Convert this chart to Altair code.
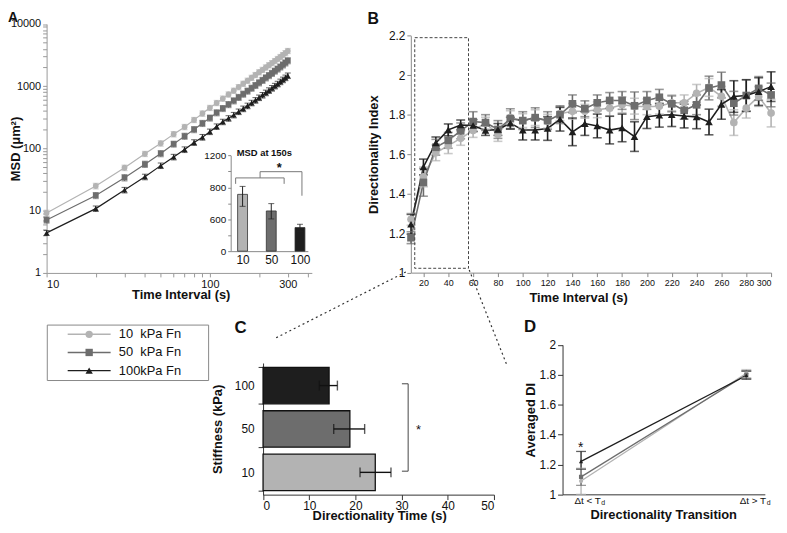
import altair as alt
import pandas as pd

FONT = "Liberation Sans"
W, H = 779, 517


def P(v):
    # screen pixel -> plot pixel (page margin is 8px)
    return v - 8


GROUPS = ["10", "50", "100"]
GREYS = ["#b3b3b3", "#6d6d6d", "#1e1e1e"]
SHAPES = ["circle", "square", "triangle-up"]

# ---------------- data: panel A (MSD, log-log) ----------------
t_a = [10, 20, 30, 40, 50, 60, 70, 80, 90, 100, 110, 120, 130, 140, 150,
       160, 170, 180, 190, 200, 210, 220, 230, 240, 250, 260, 270, 280, 290, 300]
msd_10 = [9.2, 25, 49, 82, 121, 170, 222, 288, 365, 450, 540, 635, 740, 850, 970,
          1100, 1230, 1370, 1520, 1680, 1840, 2010, 2180, 2360, 2550, 2750, 2960, 3180, 3420, 3700]
msd_50 = [7.1, 17.6, 34, 56, 83, 118, 158, 202, 254, 310, 376, 441, 510, 585, 665,
          750, 840, 935, 1035, 1140, 1250, 1370, 1490, 1620, 1760, 1900, 2050, 2210, 2380, 2580]
msd_100 = [4.4, 10.8, 21.5, 35, 53, 73, 96, 125, 152, 186, 225, 268, 305, 345, 390,
           435, 485, 540, 595, 655, 720, 785, 855, 930, 1010, 1090, 1180, 1270, 1370, 1480]
msd_err_10 = [1.0, 2.6, 5, 8, 12, 17, 22, 28, 36, 44, 53, 62, 72, 83, 95,
              107, 120, 133, 147, 162, 178, 195, 212, 230, 249, 269, 290, 311, 334, 360]
msd_err_50 = [0.8, 2.0, 4, 6.5, 9.5, 13, 18, 23, 29, 35, 42, 50, 58, 66, 75,
              85, 95, 106, 117, 129, 141, 154, 168, 182, 197, 213, 230, 248, 268, 290]
msd_err_100 = [0.4, 1.1, 2.2, 3.6, 5.4, 7.5, 10, 13, 16, 19, 23, 27, 31, 35, 40,
               45, 50, 55, 61, 67, 74, 81, 88, 96, 104, 112, 121, 131, 141, 152]

# inset: MSD at 150 s
inset_msd = [712, 504, 296]
inset_lo = [562, 404, 250]
inset_hi = [812, 596, 337]

# ---------------- data: panel B (directionality index) ----------------
t_b = t_a
di_10 = [1.27, 1.485, 1.607, 1.643, 1.68, 1.72, 1.757, 1.70, 1.785, 1.77, 1.785, 1.767, 1.805, 1.817, 1.817,
         1.825, 1.833, 1.85, 1.843, 1.84, 1.843, 1.86, 1.86, 1.908, 1.938, 1.893, 1.76, 1.833, 1.892, 1.808]
di_err_10 = [0.03, 0.05, 0.04, 0.04, 0.035, 0.035, 0.03, 0.035, 0.035, 0.035, 0.04, 0.035, 0.035, 0.04, 0.035,
             0.04, 0.04, 0.04, 0.04, 0.04, 0.04, 0.04, 0.04, 0.045, 0.045, 0.05, 0.065, 0.05, 0.05, 0.07]
di_50 = [1.177, 1.457, 1.635, 1.67, 1.718, 1.765, 1.76, 1.725, 1.78, 1.77, 1.785, 1.77, 1.80, 1.855, 1.83,
         1.86, 1.872, 1.872, 1.845, 1.872, 1.888, 1.855, 1.822, 1.85, 1.935, 1.95, 1.858, 1.897, 1.933, 1.90]
di_err_50 = [0.03, 0.07, 0.04, 0.04, 0.04, 0.05, 0.04, 0.045, 0.05, 0.045, 0.05, 0.045, 0.045, 0.045, 0.04,
             0.04, 0.04, 0.045, 0.07, 0.045, 0.04, 0.04, 0.045, 0.05, 0.06, 0.065, 0.06, 0.08, 0.06, 0.06]
di_100 = [1.245, 1.535, 1.657, 1.723, 1.748, 1.745, 1.72, 1.725, 1.757, 1.722, 1.722, 1.73, 1.777, 1.713, 1.755,
          1.743, 1.722, 1.733, 1.689, 1.79, 1.797, 1.80, 1.793, 1.789, 1.763, 1.852, 1.892, 1.897, 1.917, 1.942]
di_err_100 = [0.05, 0.04, 0.03, 0.03, 0.025, 0.03, 0.025, 0.03, 0.03, 0.05, 0.05, 0.06, 0.06, 0.07, 0.06,
              0.06, 0.07, 0.07, 0.075, 0.06, 0.06, 0.06, 0.06, 0.06, 0.065, 0.075, 0.08, 0.08, 0.07, 0.075]
zoom_box_t = [13, 56.3]
zoom_box_di = [1.022, 2.19]

# ---------------- data: panel C (directionality time) ----------------
dir_time = [24.3, 18.8, 14.3]
dir_lo = [21.0, 15.3, 12.2]
dir_hi = [27.7, 22.0, 16.1]

# ---------------- data: panel D (averaged DI) ----------------
phases = ["\u0394t < Td", "\u0394t > Td"]
phase_text = ["\u0394t < T", "\u0394t > T"]
adi_10 = [1.089, 1.81]
adi_10_lo = [1.0, 1.78]
adi_10_hi = [1.175, 1.835]
adi_50 = [1.117, 1.80]
adi_50_lo = [1.06, 1.775]
adi_50_hi = [1.17, 1.825]
adi_100 = [1.221, 1.795]
adi_100_lo = [1.168, 1.77]
adi_100_hi = [1.287, 1.825]

# ---------------- tables ----------------
rows = []
for g, vals, errs in zip(GROUPS, [msd_10, msd_50, msd_100], [msd_err_10, msd_err_50, msd_err_100]):
    for t, v, e in zip(t_a, vals, errs):
        rows.append(dict(t=t, v=v, lo=v - e, hi=v + e, grp=g))
dfA = pd.DataFrame(rows)

dfI = pd.DataFrame(dict(grp=GROUPS, msd=inset_msd, lo=inset_lo, hi=inset_hi))

rows = []
for g, vals, errs in zip(GROUPS, [di_10, di_50, di_100], [di_err_10, di_err_50, di_err_100]):
    for t, v, e in zip(t_b, vals, errs):
        rows.append(dict(t=t, v=v, lo=v - e, hi=v + e, grp=g))
dfB = pd.DataFrame(rows)
dfBox = pd.DataFrame(dict(x0=[zoom_box_t[0]], x1=[zoom_box_t[1]], y0=[zoom_box_di[0]], y1=[zoom_box_di[1]]))

dfC = pd.DataFrame(dict(grp=GROUPS, dt=dir_time, lo=dir_lo, hi=dir_hi))

rows = []
for g, vals, los, his in zip(GROUPS, [adi_10, adi_50, adi_100], [adi_10_lo, adi_50_lo, adi_100_lo],
                             [adi_10_hi, adi_50_hi, adi_100_hi]):
    for ph, v, lo, hi in zip(phases, vals, los, his):
        rows.append(dict(phase=ph, v=v, lo=lo, hi=hi, grp=g))
dfD = pd.DataFrame(rows)
dfDl = pd.DataFrame(dict(phase=phases, main=phase_text))

dfL = pd.DataFrame(dict(grp=GROUPS))
one = pd.DataFrame(dict(k=[0]))

color_enc = alt.Color("grp:N", scale=alt.Scale(domain=GROUPS, range=GREYS), legend=None)
shape_enc = alt.Shape("grp:N", scale=alt.Scale(domain=GROUPS, range=SHAPES), legend=None)

TITLE = dict(titleFontSize=13, titleFontWeight="bold", titleBaseline="middle", titleColor="#111")

# ---------------- panel A ----------------
sxA = alt.Scale(type="log", domain=[10, 421], range=[P(47), P(315)])
syA = alt.Scale(type="log", domain=[1, 10000], range=[P(273), P(21.5)])
axA_x = alt.Axis(orient="bottom", offset=P(273) - H,
                 values=[10, 20, 30, 40, 50, 60, 70, 80, 90, 100, 200, 300, 400],
                 labelExpr="indexof([10,100,300], datum.value) >= 0 ? format(datum.value, 'd') : ''",
                 labelFontSize=11, labelColor="#111", labelOverlap=False, labelPadding=2,
                 domainColor="#999", tickColor="#999", tickSize=4,
                 title="Time Interval (s)", titleX=P(182.5), titleY=22, **TITLE)
yvals = [m * 10 ** e for e in range(4) for m in range(1, 10)] + [10000]
axA_y = alt.Axis(orient="left", offset=-P(47), values=yvals,
                 labelExpr="indexof([1,10,100,1000,10000], datum.value) >= 0 ? format(datum.value, 'd') : ''",
                 labelFontSize=11, labelColor="#111", labelOverlap=False, labelPadding=2,
                 domainColor="#999", tickColor="#999", tickSize=4,
                 title="MSD (\u03bcm\u00b2)", titleX=-31, **TITLE)


def XA(f):
    return alt.X(f, type="quantitative", scale=sxA, axis=axA_x)


def YA(f):
    return alt.Y(f, type="quantitative", scale=syA, axis=axA_y)


bA = alt.Chart(dfA)
panelA = alt.layer(
    bA.mark_line(strokeWidth=1.2).encode(x=XA("t"), y=YA("v"), color=color_enc),
    bA.mark_rule(strokeWidth=1).encode(x=XA("t"), y=YA("lo"), y2="hi", color=color_enc),
    bA.mark_tick(orient="horizontal", size=6, thickness=1).encode(x=XA("t"), y=YA("lo"), color=color_enc),
    bA.mark_tick(orient="horizontal", size=6, thickness=1).encode(x=XA("t"), y=YA("hi"), color=color_enc),
    bA.mark_point(filled=True, size=34, opacity=1).encode(x=XA("t"), y=YA("v"), color=color_enc, shape=shape_enc),
)

# ---------------- inset ----------------
sxI = alt.Scale(type="point", domain=GROUPS, range=[P(233), P(311)], padding=0.345, align=0.6)
syI = alt.Scale(domain=[0, 1200], range=[P(251), P(154.3)])
axI_x = alt.Axis(orient="bottom", offset=P(251) - H, title=None, labelFontSize=12, labelColor="#111",
                 ticks=False, domainColor="#888", labelAngle=0, labelPadding=3)
axI_y = alt.Axis(orient="left", offset=-P(233), title=None, values=[0, 200, 400, 600, 800, 1000, 1200],
                 labelExpr="datum.value == 400 ? '600' : (datum.value % 400 == 0 ? format(datum.value, 'd') : '')",
                 labelFontSize=10, labelColor="#111", domainColor="#888", tickColor="#888", tickSize=3,
                 labelPadding=2, labelOverlap=False)


def XI(f):
    return alt.X(f, type="nominal", scale=sxI, axis=axI_x)


def YI(f):
    return alt.Y(f, type="quantitative", scale=syI, axis=axI_y)


bI = alt.Chart(dfI)
inset = alt.layer(
    bI.mark_bar(size=10, stroke="#333", strokeWidth=0.8, orient="vertical").encode(x=XI("grp"), y=YI("msd"), color=color_enc),
    bI.mark_rule(strokeWidth=1, color="#222").encode(x=XI("grp"), y=YI("lo"), y2="hi"),
    bI.mark_tick(orient="horizontal", size=6, thickness=1, color="#222").encode(x=XI("grp"), y=YI("lo")),
    bI.mark_tick(orient="horizontal", size=6, thickness=1, color="#222").encode(x=XI("grp"), y=YI("hi")),
)

# ---------------- panel B ----------------
sxB = alt.Scale(domain=[10, 300], range=[P(415.2), P(779)])
syB = alt.Scale(domain=[1, 2.2], range=[P(272.7), P(33.3)])
axB_x = alt.Axis(orient="bottom", offset=P(272.7) - H, values=list(range(20, 301, 20)),
                 labelFontSize=9, labelColor="#111", labelPadding=2,
                 domainColor="#888", tickColor="#888", tickSize=4,
                 title="Time Interval (s)", titleX=P(584), titleY=24.8, **TITLE)
axB_y = alt.Axis(orient="left", offset=-P(415), values=[1, 1.2, 1.4, 1.6, 1.8, 2, 2.2], format=".1~f",
                 labelFontSize=12, labelColor="#111", labelPadding=2,
                 domainColor="#888", tickColor="#888", tickSize=4,
                 title="Directionality Index", titleX=-38, **TITLE)


def XB(f):
    return alt.X(f, type="quantitative", scale=sxB, axis=axB_x)


def YB(f):
    return alt.Y(f, type="quantitative", scale=syB, axis=axB_y)


bB = alt.Chart(dfB)
panelB = alt.layer(
    bB.mark_line(strokeWidth=1.6).encode(x=XB("t"), y=YB("v"), color=color_enc),
    bB.mark_rule(strokeWidth=1.6).encode(x=XB("t"), y=YB("lo"), y2="hi", color=color_enc),
    bB.mark_tick(orient="horizontal", size=9, thickness=1.6).encode(x=XB("t"), y=YB("lo"), color=color_enc),
    bB.mark_tick(orient="horizontal", size=9, thickness=1.6).encode(x=XB("t"), y=YB("hi"), color=color_enc),
    bB.mark_point(filled=True, size=60, opacity=1).encode(x=XB("t"), y=YB("v"), color=color_enc, shape=shape_enc),
    alt.Chart(dfBox).mark_rect(fillOpacity=0, stroke="#444", strokeWidth=1, strokeDash=[3, 2]).encode(
        x=XB("x0"), x2="x1", y=YB("y0"), y2="y1"),
)

# ---------------- panel C ----------------
sxC = alt.Scale(domain=[0, 50], range=[P(265.7), P(499)])
syC = alt.Scale(domain=["100", "50", "10"], range=[P(364), P(497.3)], paddingInner=0.16, paddingOuter=0.1)
axC_x = alt.Axis(orient="bottom", offset=P(497) - H, values=[0, 10, 20, 30, 40, 50],
                 labelFontSize=12, labelColor="#111", labelPadding=1,
                 domainColor="#333", tickColor="#333", tickSize=5,
                 title="Directionality Time (s)", titleX=P(383), titleY=21, **TITLE)
axC_y = alt.Axis(orient="left", offset=-P(265.7), tickBand="extent",
                 labelFontSize=12, labelColor="#111", labelPadding=4,
                 domainColor="#333", tickColor="#333", tickSize=5,
                 title="Stiffness (kPa)", titleX=220 - 265.7, **TITLE)


def XC(f):
    return alt.X(f, type="quantitative", scale=sxC, axis=axC_x)


def YC(f):
    return alt.Y(f, type="nominal", scale=syC, axis=axC_y)


bC = alt.Chart(dfC)
panelC = alt.layer(
    bC.mark_bar(stroke="#111", strokeWidth=1.3).encode(x=XC("dt"), y=YC("grp"), color=color_enc),
    bC.mark_rule(strokeWidth=1.4, color="#111").encode(x=XC("lo"), x2="hi", y=YC("grp")),
    bC.mark_tick(orient="vertical", size=10, thickness=1.4, color="#111").encode(x=XC("lo"), y=YC("grp")),
    bC.mark_tick(orient="vertical", size=10, thickness=1.4, color="#111").encode(x=XC("hi"), y=YC("grp")),
)

# ---------------- panel D ----------------
sxD = alt.Scale(type="point", domain=phases, range=[P(568.3), P(772.7)], padding=0.112)
syD = alt.Scale(domain=[1, 2], range=[P(496.7), P(345.7)])
axD_x = alt.Axis(orient="bottom", offset=P(496.7) - H, labels=False, ticks=False,
                 domainColor="#333", title="Directionality Transition", titleX=P(670), titleY=20, **TITLE)
axD_y = alt.Axis(orient="left", offset=-P(568.3), values=[1, 1.2, 1.4, 1.6, 1.8, 2], format=".1~f",
                 labelFontSize=12, labelColor="#111", labelPadding=2,
                 domainColor="#333", tickColor="#333", tickSize=5,
                 title="Averaged DI", titleX=536 - 568.3, **TITLE)


def XD(f):
    return alt.X(f, type="nominal", scale=sxD, axis=axD_x)


def YD(f):
    return alt.Y(f, type="quantitative", scale=syD, axis=axD_y)


bD = alt.Chart(dfD)
panelD = alt.layer(
    bD.mark_line(strokeWidth=1.3).encode(x=XD("phase"), y=YD("v"), color=color_enc),
    bD.mark_rule(strokeWidth=1.3).encode(x=XD("phase"), y=YD("lo"), y2="hi", color=color_enc),
    bD.mark_tick(orient="horizontal", size=10, thickness=1.3).encode(x=XD("phase"), y=YD("lo"), color=color_enc),
    bD.mark_tick(orient="horizontal", size=10, thickness=1.3).encode(x=XD("phase"), y=YD("hi"), color=color_enc),
    bD.mark_point(filled=True, size=18, opacity=1).encode(x=XD("phase"), y=YD("v"), color=color_enc, shape=shape_enc),
    alt.Chart(dfDl).mark_text(align="right", baseline="middle", fontSize=10, dx=20, color="#111").encode(
        x=XD("phase"), y=alt.value(P(503)), text="main:N"),
    alt.Chart(dfDl).mark_text(align="left", baseline="middle", fontSize=7, dx=20.5, dy=2.5, color="#111").encode(
        x=XD("phase"), y=alt.value(P(503)), text=alt.value("d")),
)

# ---------------- legend ----------------
syL = alt.Scale(type="point", domain=GROUPS, range=[P(335), P(371.7)], padding=0)
YL = alt.Y("grp:N", scale=syL, axis=None)
bL = alt.Chart(dfL)
legend = alt.layer(
    alt.Chart(one).mark_rect(fillOpacity=0, stroke="#888", strokeWidth=1).encode(
        x=alt.value(P(47.7)), x2=alt.value(P(210.7)), y=alt.value(P(325.7)), y2=alt.value(P(381.7))),
    bL.mark_rule(strokeWidth=1.4).encode(x=alt.value(P(68.3)), x2=alt.value(P(111.7)), y=YL, color=color_enc),
    bL.mark_point(filled=True, size=55, opacity=1).encode(x=alt.value(P(90)), y=YL, color=color_enc, shape=shape_enc),
    bL.mark_text(align="left", baseline="middle", fontSize=13, color="#111").encode(
        x=alt.value(P(120)), y=YL, text="grp:N"),
    bL.mark_text(align="left", baseline="middle", fontSize=13, color="#111").encode(
        x=alt.value(P(141.7)), y=YL, text=alt.value("kPa Fn")),
)


# ---------------- annotations ----------------
def seg(x1, y1, x2, y2, color="#333", width=1.0, dash=None):
    kw = dict(color=color, strokeWidth=width)
    if dash:
        kw["strokeDash"] = dash
    return alt.Chart(one).mark_rule(**kw).encode(
        x=alt.value(P(x1)), y=alt.value(P(y1)), x2=alt.value(P(x2)), y2=alt.value(P(y2)))


def label(txt, x, y, size=17, weight="bold", color="#111", baseline="middle", align="center"):
    return alt.Chart(one).mark_text(align=align, baseline=baseline, fontSize=size,
                                    fontWeight=weight, color=color).encode(
        x=alt.value(P(x)), y=alt.value(P(y)), text=alt.value(txt))


annot = alt.layer(
    label("A", 8, 8, size=14, baseline="top", align="left"),
    label("B", 377, 8.5, size=16, baseline="top"),
    label("C", 243, 329), label("D", 535.5, 328),
    label("MSD at 150s", 267, 152, size=9.5),
    # inset significance brackets
    seg(238, 177, 287, 177, "#777"), seg(238, 177, 238, 183, "#777"), seg(287, 177, 287, 183, "#777"),
    seg(262.7, 170.7, 262.7, 177, "#777"), seg(262.7, 170.7, 305, 170.7, "#777"),
    seg(305, 170.7, 305, 195, "#777"),
    label("*", 282, 167, size=13),
    # connector dotted lines
    seg(410, 272, 278, 339, "#333", 1.2, [2, 3]),
    seg(474, 270, 512, 366, "#333", 1.2, [2, 3]),
    # panel C bracket
    seg(412.3, 385, 412.3, 473.3, "#444"), seg(406, 385, 412.3, 385, "#444"),
    seg(406, 473.3, 412.3, 473.3, "#444"),
    label("*", 422.7, 432, size=13, weight="normal"),
    # panel D star
    label("*", 586.7, 450, size=14, weight="normal"),
)

chart = alt.layer(panelA, inset, panelB, panelC, panelD, legend, annot).resolve_scale(
    x="independent", y="independent"
).properties(
    width=W, height=H, padding=0, autosize=alt.AutoSizeParams(type="none")
).configure_view(stroke=None).configure_axis(
    labelFont=FONT, titleFont=FONT, grid=False
).configure_text(font=FONT)

chart.save("out.html", embed_options={"renderer": "svg", "actions": False})
